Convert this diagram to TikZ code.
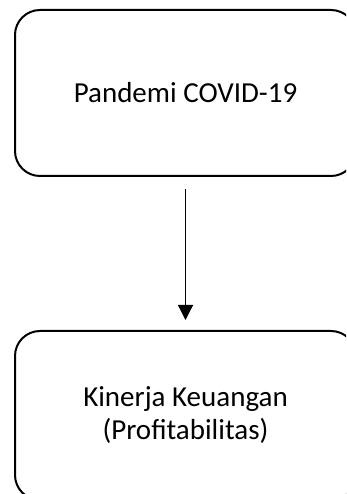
\documentclass[tikz,border=0pt]{standalone}
\usepackage{fontspec}
\setmainfont{Carlito}
\usetikzlibrary{arrows.meta,positioning}
\tikzset{
  varbox/.style={draw=black,line width=2pt,rounded corners=25pt,minimum width=341pt,
    align=center,inner sep=0pt,font=\fontsize{29}{33}\selectfont},
  flow/.style={-{Triangle[length=15pt,width=15pt]},line width=1.3pt,
    shorten <=12pt,shorten >=10pt}
}
\begin{document}
\begin{tikzpicture}[x=1pt,y=1pt]
\useasboundingbox (0,0) rectangle (346,494);
\clip (0,0) rectangle (346,494);
\node[varbox,minimum height=166pt] (pandemi) at (185.5,401) {Pandemi COVID-19};
\node[varbox,minimum height=169pt] (kinerja) at (185.5,78.5) {Kinerja Keuangan\\(Profitabilitas)};
\draw[flow] (pandemi.south) -- (kinerja.north -| pandemi.south);
\end{tikzpicture}
\end{document}
